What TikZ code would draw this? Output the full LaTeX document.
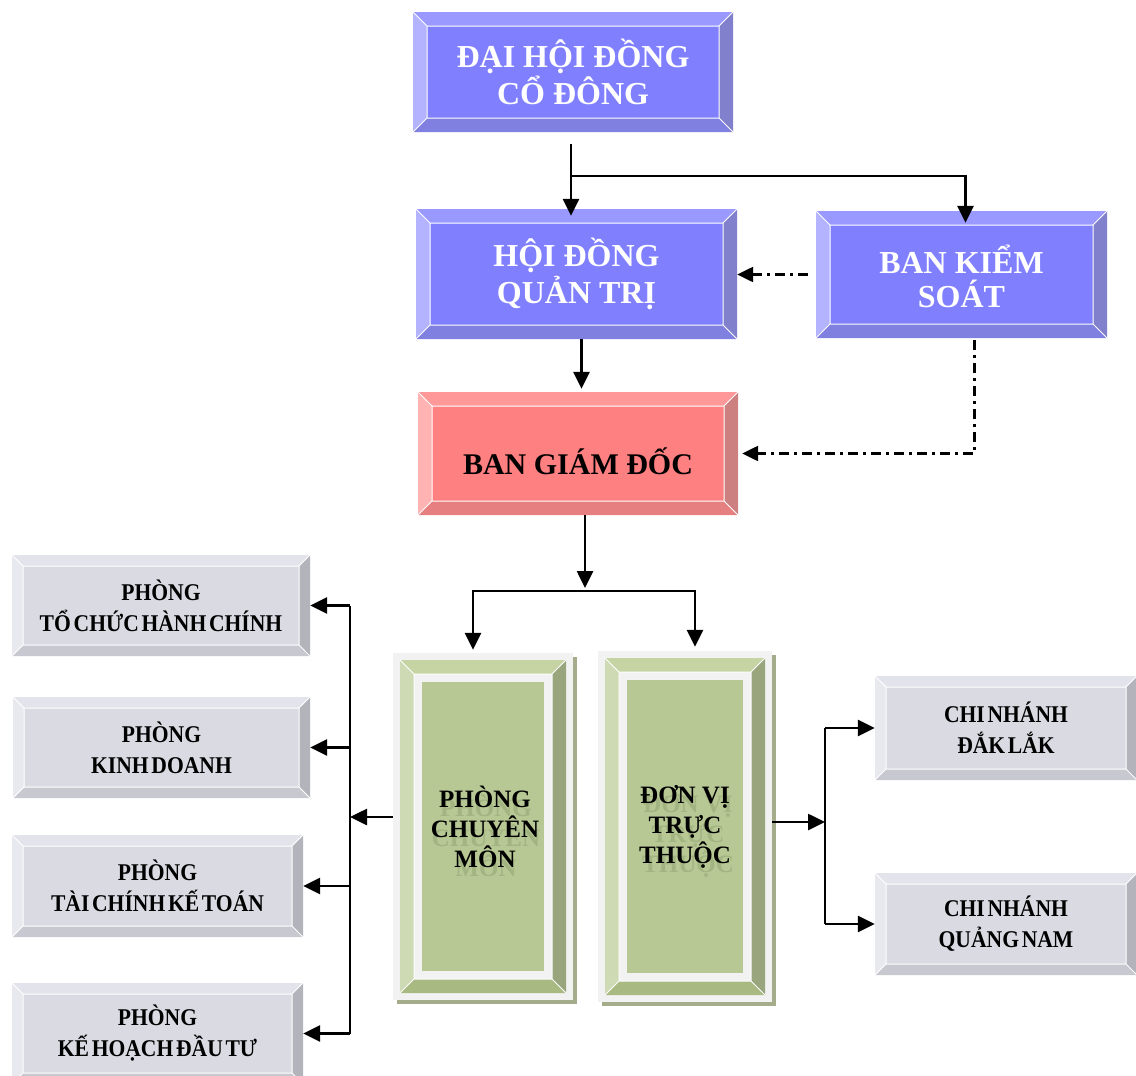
\documentclass[tikz,border=0pt]{standalone}
\usepackage{fontspec}
\setmainfont{Liberation Serif}
\newfontfamily\condfont[FakeStretch=0.9,WordSpace=0.5]{Liberation Serif}
\usepackage{tikz}
\usetikzlibrary{arrows.meta,positioning,backgrounds}

\definecolor{blueface}{HTML}{8080FF}
\definecolor{bluetop}{HTML}{9999FF}
\definecolor{blueleft}{HTML}{B3B3FF}
\definecolor{blueright}{HTML}{8080CC}
\definecolor{bluebot}{HTML}{8080E0}
\definecolor{redface}{HTML}{FF8080}
\definecolor{redtop}{HTML}{FF9999}
\definecolor{redleft}{HTML}{FFB3B3}
\definecolor{redright}{HTML}{CC8080}
\definecolor{redbot}{HTML}{E68080}
\definecolor{greenface}{HTML}{B7C894}
\definecolor{greentop}{HTML}{C6D4A4}
\definecolor{greenleft}{HTML}{CEDAB4}
\definecolor{greenright}{HTML}{98A57D}
\definecolor{greenbot}{HTML}{A8BA82}
\definecolor{greenframe}{HTML}{F2F2F2}
\definecolor{greenshadow}{HTML}{A4AC8C}
\definecolor{ghostgreen}{HTML}{A3B483}
\definecolor{greyface}{HTML}{DADAE3}
\definecolor{greytop}{HTML}{E3E3EB}
\definecolor{greyleft}{HTML}{E8E8EF}
\definecolor{greyright}{HTML}{B3B3BC}
\definecolor{greybot}{HTML}{C8C8D0}

\begin{document}
\begin{tikzpicture}[x=1pt,y=-1pt,
  box/.style={inner sep=0pt,align=center},
  bevel/.style n args={8}{path picture={
    \coordinate (o1) at ([xshift=#1pt,yshift=-#1pt]path picture bounding box.north west);
    \coordinate (o3) at ([xshift=-#1pt,yshift=#1pt]path picture bounding box.south east);
    \coordinate (i1) at ([xshift=#2pt,yshift=-#2pt]o1);
    \coordinate (i3) at ([xshift=-#2pt,yshift=#2pt]o3);
    \coordinate (f1) at ([xshift=#3pt,yshift=-#3pt]i1);
    \coordinate (f3) at ([xshift=-#3pt,yshift=#3pt]i3);
    \fill[#4] (f1) rectangle (f3);
    \fill[#5] (o1) -- (o1 -| o3) -- (i1 -| i3) -- (i1) -- cycle;
    \fill[#6] (o1) -- (i1) -- (i1 |- i3) -- (o1 |- o3) -- cycle;
    \fill[#7] (o1 -| o3) -- (o3) -- (i3) -- (i1 -| i3) -- cycle;
    \fill[#8] (o1 |- o3) -- (i1 |- i3) -- (i3) -- (o3) -- cycle;
    \draw[white,line width=1pt] (i1) rectangle (i3) (o1) -- (i1) (o1 -| o3) -- (i1 -| i3)
      (o3) -- (i3) (o1 |- o3) -- (i1 |- i3);
  }},
  bluebox/.style={box,fill=blueface,bevel={0}{14}{0}{blueface}{bluetop}{blueleft}{blueright}{bluebot},
    text=white,font=\fontsize{32}{37}\selectfont\bfseries},
  redbox/.style={box,fill=redface,bevel={0}{14}{0}{redface}{redtop}{redleft}{redright}{redbot},
    font=\fontsize{30}{34}\selectfont\bfseries},
  greenbox/.style={box,fill=greenframe,bevel={7}{14}{8}{greenface}{greentop}{greenleft}{greenright}{greenbot}},
  greentext/.style={box,font=\fontsize{25}{30}\selectfont\bfseries},
  ghost/.style={greentext,text=ghostgreen},
  greybox/.style={box,fill=greyface,bevel={0}{11}{0}{greyface}{greytop}{greyleft}{greyright}{greybot},
    font=\condfont\fontsize{24}{31}\selectfont\bfseries},
  line/.style={line width=2.6pt},
  arr/.style={line,-{Triangle[length=17pt,width=16pt]}},
  dda/.style={line width=2.4pt,dash pattern=on 10pt off 5pt on 3pt off 5pt,-{Triangle[length=16pt,width=15pt]}}]

\useasboundingbox (0,0) rectangle (1136,1076);

% top of the chart
\node[bluebox,minimum width=320pt,minimum height=120pt] (dhdcd) at (573,72) {ĐẠI HỘI ĐỒNG\\CỔ ĐÔNG};
\node[bluebox,minimum width=321pt,minimum height=130pt] (hdqt) at (576.5,274) {HỘI ĐỒNG\\QUẢN TRỊ};
\node[bluebox,minimum width=291pt,minimum height=127pt] (bks) at (961.5,274.5) {\raisebox{-3pt}[\height][\depth]{BAN KIỂM}\\SOÁT};
\node[redbox,minimum width=320pt,minimum height=123pt] (bgd) at (578,453.5) {\raisebox{-8pt}[\height][\depth]{BAN GIÁM ĐỐC}};

% middle
\node[greenbox,minimum width=180pt,minimum height=347pt] (pcm) at (483,826.5) {};
\node[ghost] (pcmg) at ([shift={(3pt,-9pt)}]pcm.center) {PHÒNG\\CHUYÊN\\MÔN};
\node[greentext] (pcmt) at ([xshift=2pt]pcm.center) {PHÒNG\\CHUYÊN\\MÔN};
\node[greenbox,minimum width=174pt,minimum height=351pt] (dvtt) at (685,826.5) {};
\node[ghost] (dvttg) at ([shift={(3pt,-9pt)}]dvtt.center) {ĐƠN VỊ\\TRỰC\\THUỘC};
\node[greentext] (dvttt) at (dvtt.center) {ĐƠN VỊ\\TRỰC\\THUỘC};
\begin{scope}[on background layer]
  \fill[greenshadow] ([shift={(4pt,-4pt)}]pcm.south west) rectangle ([shift={(4pt,-4pt)}]pcm.north east);
  \fill[greenshadow] ([shift={(4pt,-4pt)}]dvtt.south west) rectangle ([shift={(4pt,-4pt)}]dvtt.north east);
\end{scope}

% departments
\node[greybox,minimum width=298pt,minimum height=101pt] (tchc) at (161,605.5) {PHÒNG\\TỔ CHỨC HÀNH CHÍNH};
\node[greybox,minimum width=297pt,minimum height=101pt] (kd) at (161.5,747.5) {PHÒNG\\KINH DOANH};
\node[greybox,minimum width=291pt,minimum height=102pt] (tckt) at (157.5,886) {PHÒNG\\TÀI CHÍNH KẾ TOÁN};
\node[greybox,minimum width=291pt,minimum height=101pt] (khdt) at (157.5,1033.5) {PHÒNG\\KẾ HOẠCH ĐẦU TƯ};
\node[greybox,minimum width=262pt,minimum height=104pt] (cndl) at (1006,728) {CHI NHÁNH\\ĐẮK LẮK};
\node[greybox,minimum width=262pt,minimum height=102pt] (cnqn) at (1006,924) {CHI NHÁNH\\QUẢNG NAM};

% connectors
\coordinate (j1) at (571,176);
\draw[arr,shorten <=12pt,shorten >=-7pt] (dhdcd.south -| j1) -- (hdqt.north -| j1);
\draw[arr,shorten >=-12pt] (j1) -| ([xshift=4pt]bks.north);
\draw[dda,shorten <=8pt] (bks.west) -- (bks.west -| hdqt.east);
\draw[dda,shorten <=2pt,shorten >=4pt] ([xshift=13pt]bks.south) |- (bgd.east);
\coordinate (h1) at ([xshift=5pt]hdqt.south);
\draw[arr,shorten >=3pt] (h1) -- (h1 |- bgd.north);

\coordinate (j2) at (585,591);
\draw[arr,shorten >=3pt] (bgd.south -| j2) -- (j2);
\draw[arr,shorten >=3pt] (j2) -| ([xshift=-10pt]pcm.north);
\draw[arr,shorten >=4pt] (j2) -| ([xshift=10pt]dvtt.north);

\coordinate (lb) at (350,817);
\draw[arr] (pcm.west |- lb) -- (lb);
\draw[line] (lb |- tchc.east) -- (lb |- khdt.east);
\foreach \n in {tchc,kd,tckt,khdt}
  \draw[arr] (lb |- \n.east) -- (\n.east);

\coordinate (rb) at (825,822);
\draw[arr] (dvtt.east |- rb) -- (rb);
\draw[line] (rb |- cndl.west) -- (rb |- cnqn.west);
\foreach \n in {cndl,cnqn}
  \draw[arr] (rb |- \n.west) -- (\n.west);
\end{tikzpicture}
\end{document}
